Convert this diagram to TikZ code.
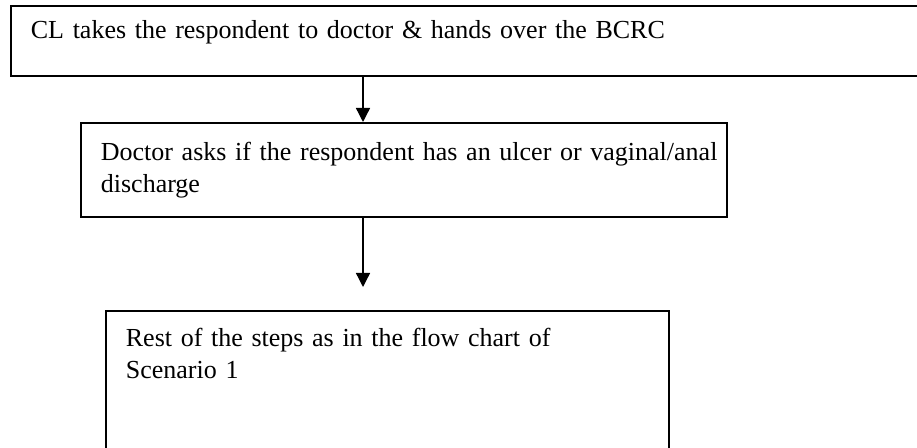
\documentclass[tikz,border=0pt]{standalone}
\usepackage{fontspec}
\setmainfont{Liberation Serif}
\usetikzlibrary{arrows.meta}
\begin{document}
\begin{tikzpicture}[x=0.75pt,y=-0.75pt,
  box/.style={draw=black, line width=1.3pt, anchor=north west, align=left,
    inner xsep=15pt, inner ysep=0pt, font=\fontsize{19.5pt}{24pt}\selectfont},
  arr/.style={-{Triangle[length=10.5pt,width=10.5pt]}, line width=1pt}]
\useasboundingbox (0,0) rectangle (917,448);
\node[box, text width=663.75pt, text height=24.75pt, text depth=27.75pt] (b1) at (10,5)
  {\mbox{CL takes the respondent to doctor \& hands over the BCRC}};
\node[box, text width=454.5pt, text height=28.5pt, text depth=42pt] (b2) at (80,122)
  {\mbox{Doctor asks if the respondent has an ulcer or vaginal/anal}\\discharge};
\node[box, text width=392.25pt, text height=27pt, text depth=93pt] (b3) at (105,310)
  {\mbox{Rest of the steps as in the flow chart of}\\Scenario 1};
\coordinate (c1) at (363,0);
\coordinate (e2) at (363,287);
\draw[arr] (b1.south -| c1) -- (b2.north -| c1);
\draw[arr] (b2.south -| c1) -- (e2);
\end{tikzpicture}
\end{document}
